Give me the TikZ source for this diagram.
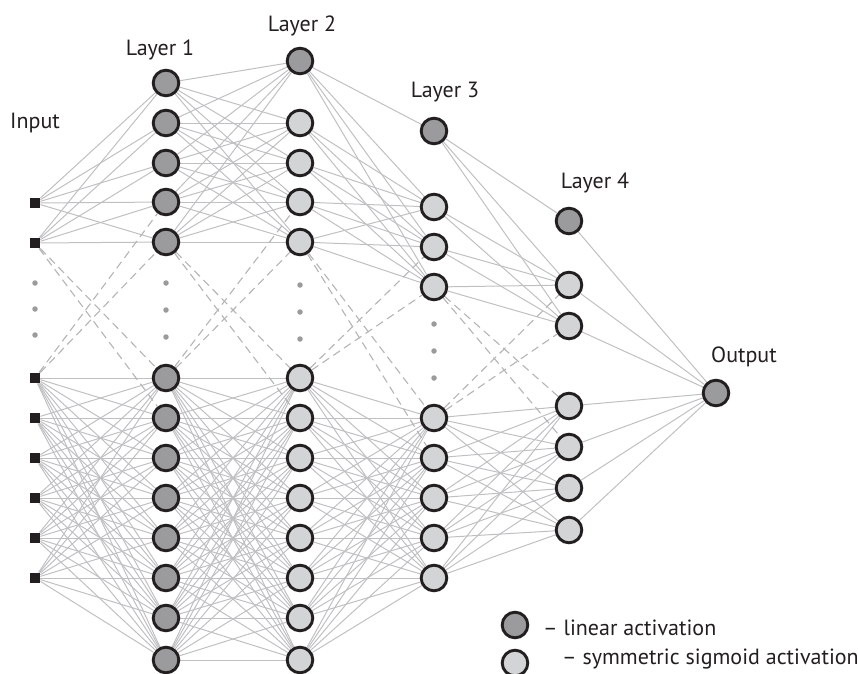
\documentclass[tikz,border=0pt]{standalone}
\usepackage{fontspec}
\setmainfont{PT Sans}
\usetikzlibrary{backgrounds}
\definecolor{lindark}{RGB}{155,155,158}
\definecolor{siglight}{RGB}{211,212,214}
\definecolor{inkcol}{RGB}{35,31,32}
\definecolor{wirecol}{RGB}{192,192,195}
\definecolor{dashcol}{RGB}{180,180,183}
\definecolor{dotcol}{RGB}{155,155,158}
\begin{document}
\begin{tikzpicture}[x=1pt,y=-1pt,
  neuron/.style={circle, draw=inkcol, line width=2.9pt, minimum size=25.6pt, inner sep=0pt},
  lin/.style={neuron, fill=lindark},
  sig/.style={neuron, fill=siglight},
  inp/.style={rectangle, fill=inkcol, minimum size=10.5pt, inner sep=0pt},
  wire/.style={draw=wirecol, line width=1pt},
  dwire/.style={draw=dashcol, line width=1.1pt, dash pattern=on 8pt off 5pt},
  elli/.style={circle, fill=dotcol, minimum size=5.5pt, inner sep=0pt},
  lbl/.style={font=\fontsize{22}{26}\selectfont, text=inkcol, inner sep=0pt}
]
\useasboundingbox (0,0) rectangle (858,673);

% input squares
\foreach \n/\y in {1/203,2/243,3/378,4/418,5/458,6/498,7/538,8/578}
  \node[inp] (i\n) at (35,\y) {};
% layer 1
\foreach \n/\y in {1/83,2/123,3/163,4/202,5/242,6/378,7/418,8/458,9/498,10/538,11/578,12/618,13/660}
  \node[lin] (a\n) at (166,\y) {};
% layer 2
\node[lin] (b0) at (300,61) {};
\foreach \n/\y in {1/123,2/163,3/202,4/242,5/378,6/418,7/458,8/498,9/538,10/578,11/618,12/660}
  \node[sig] (b\n) at (300,\y) {};
% layer 3
\node[lin] (c0) at (434,131) {};
\foreach \n/\y in {1/207,2/247,3/287,4/418,5/458,6/498,7/538,8/578}
  \node[sig] (c\n) at (434,\y) {};
% layer 4
\node[lin] (d0) at (569,221) {};
\foreach \n/\y in {1/285,2/326,3/406,4/447,5/488,6/530}
  \node[sig] (d\n) at (569,\y) {};
% output
\node[lin] (o) at (716,393) {};

% ellipsis dots
\foreach \n/\y in {1/283,2/309,3/335} \node[elli] (ei\n) at (35,\y) {};
\foreach \n/\y in {1/283,2/310,3/337} \node[elli] (ea\n) at (166,\y) {};
\foreach \n/\y in {1/285,2/312,3/339} \node[elli] (eb\n) at (300,\y) {};
\foreach \n/\y in {1/324,2/351,3/378} \node[elli] (ec\n) at (434,\y) {};

% connections
\begin{scope}[on background layer]
  \foreach \s in {1,2} \foreach \t in {1,...,5} \draw[wire] (i\s) -- (a\t);
  \foreach \s in {3,...,8} \foreach \t in {6,...,13} \draw[wire] (i\s) -- (a\t);
  \foreach \s in {1,...,5} \foreach \t in {0,...,4} \draw[wire] (a\s) -- (b\t);
  \foreach \s in {6,...,13} \foreach \t in {5,...,12} \draw[wire] (a\s) -- (b\t);
  \draw[wire] (b0) -- (c0);
  \foreach \s in {0,...,4} \foreach \t in {1,2,3} \draw[wire] (b\s) -- (c\t);
  \foreach \s in {5,...,12} \foreach \t in {4,...,8} \draw[wire] (b\s) -- (c\t);
  \draw[wire] (c0) -- (d0);
  \foreach \s in {0,...,3} \foreach \t in {1,2} \draw[wire] (c\s) -- (d\t);
  \foreach \s in {4,...,8} \foreach \t in {3,...,6} \draw[wire] (c\s) -- (d\t);
  \foreach \s in {0,...,6} \draw[wire] (d\s) -- (o);
  % dashed links across the elided part
  \draw[dwire] (i2) -- (a6);  \draw[dwire] (i2) -- (a7);
  \draw[dwire] (i3) -- (a5);  \draw[dwire] (i3) -- (a4);
  \draw[dwire] (a5) -- (b5);  \draw[dwire] (a5) -- (b6);
  \draw[dwire] (a6) -- (b4);  \draw[dwire] (a6) -- (b3);
  \draw[dwire] (b4) -- (c4);  \draw[dwire] (b4) -- (c5);
  \draw[dwire] (b5) -- (c3);  \draw[dwire] (b5) -- (c2);
  \draw[dwire] (c3) -- (d3);  \draw[dwire] (c3) -- (d4);
  \draw[dwire] (c4) -- (d2);  \draw[dwire] (c4) -- (d1);
\end{scope}

% labels
\node[lbl, anchor=base west] (tin) at (10,128) {Input};
\node[lbl, anchor=base] (tl1) at (160,55) {Layer 1};
\node[lbl, anchor=base] (tl2) at (302,31) {Layer 2};
\node[lbl, anchor=base] (tl3) at (445,97) {Layer 3};
\node[lbl, anchor=base] (tl4) at (595,188) {Layer 4};
\node[lbl, anchor=base] (tout) at (744,362) {Output};

% legend
\node[lin] (k1) at (515,625) {};
\node[sig] (k2) at (515,663) {};
\node[lbl, anchor=base west] (kt1) at (543,635) {– linear activation};
\node[lbl, anchor=base west] (kt2) at (562,664) {– symmetric sigmoid activation};
\end{tikzpicture}
\end{document}
